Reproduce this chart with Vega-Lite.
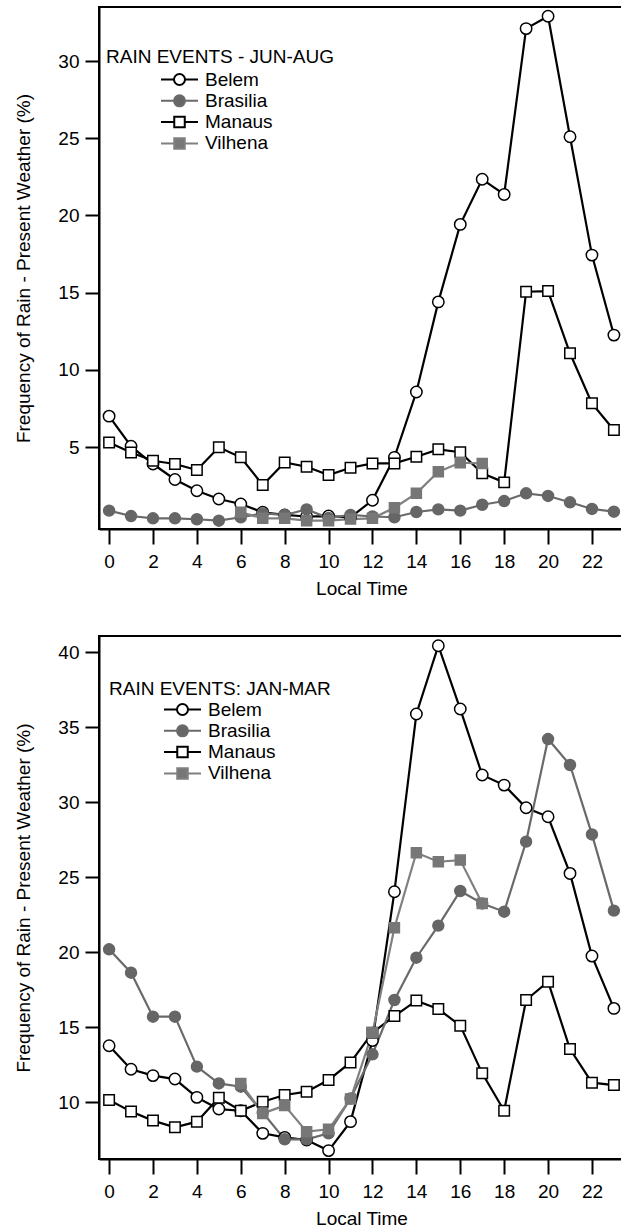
{
  "$schema": "https://vega.github.io/schema/vega-lite/v6.json",
  "padding": {"left": 13, "top": 6, "right": 0, "bottom": 0},
  "background": "white",
  "spacing": 107,
  "bounds": "flush",
  "config": {
    "font": "Liberation Sans",
    "view": {"stroke": "black", "strokeWidth": 2},
    "axis": {"grid": false, "domainColor": "black", "domainWidth": 2, "tickColor": "black", "tickWidth": 2, "labelColor": "black", "labelFontSize": 19, "titleFontSize": 19, "titleFontWeight": "normal", "titleColor": "black"},
    "axisX": {"tickSize": 15, "labelPadding": 8, "titlePadding": 8},
    "axisY": {"tickSize": 14, "labelPadding": 6, "titlePadding": 24},
    "legend": {"orient": "none", "titleFontSize": 19, "titleFontWeight": "normal", "titleColor": "black", "titleLimit": 600, "labelFontSize": 19, "labelColor": "black", "symbolSize": 100, "symbolStrokeWidth": 2, "padding": 0, "titlePadding": 4, "rowPadding": 1.3, "symbolOffset": 64, "labelOffset": 16}
  },
  "datasets": {
    "jja": [
      {"station":"Belem","hour":0,"freq":7.0},{"station":"Belem","hour":1,"freq":5.05},{"station":"Belem","hour":2,"freq":3.9},{"station":"Belem","hour":3,"freq":2.9},{"station":"Belem","hour":4,"freq":2.17},{"station":"Belem","hour":5,"freq":1.63},{"station":"Belem","hour":6,"freq":1.31},{"station":"Belem","hour":7,"freq":0.77},{"station":"Belem","hour":8,"freq":0.6},{"station":"Belem","hour":9,"freq":0.5},{"station":"Belem","hour":10,"freq":0.53},{"station":"Belem","hour":11,"freq":0.45},{"station":"Belem","hour":12,"freq":1.55},{"station":"Belem","hour":13,"freq":4.33},{"station":"Belem","hour":14,"freq":8.56},{"station":"Belem","hour":15,"freq":14.4},{"station":"Belem","hour":16,"freq":19.42},{"station":"Belem","hour":17,"freq":22.34},{"station":"Belem","hour":18,"freq":21.36},{"station":"Belem","hour":19,"freq":32.1},{"station":"Belem","hour":20,"freq":32.9},{"station":"Belem","hour":21,"freq":25.1},{"station":"Belem","hour":22,"freq":17.43},{"station":"Belem","hour":23,"freq":12.25},
      {"station":"Manaus","hour":0,"freq":5.3},{"station":"Manaus","hour":1,"freq":4.65},{"station":"Manaus","hour":2,"freq":4.11},{"station":"Manaus","hour":3,"freq":3.9},{"station":"Manaus","hour":4,"freq":3.51},{"station":"Manaus","hour":5,"freq":4.98},{"station":"Manaus","hour":6,"freq":4.33},{"station":"Manaus","hour":7,"freq":2.54},{"station":"Manaus","hour":8,"freq":4.0},{"station":"Manaus","hour":9,"freq":3.72},{"station":"Manaus","hour":10,"freq":3.19},{"station":"Manaus","hour":11,"freq":3.66},{"station":"Manaus","hour":12,"freq":3.94},{"station":"Manaus","hour":13,"freq":3.94},{"station":"Manaus","hour":14,"freq":4.37},{"station":"Manaus","hour":15,"freq":4.85},{"station":"Manaus","hour":16,"freq":4.66},{"station":"Manaus","hour":17,"freq":3.3},{"station":"Manaus","hour":18,"freq":2.71},{"station":"Manaus","hour":19,"freq":15.06},{"station":"Manaus","hour":20,"freq":15.1},{"station":"Manaus","hour":21,"freq":11.07},{"station":"Manaus","hour":22,"freq":7.83},{"station":"Manaus","hour":23,"freq":6.1},
      {"station":"Brasilia","hour":0,"freq":0.88},{"station":"Brasilia","hour":1,"freq":0.53},{"station":"Brasilia","hour":2,"freq":0.38},{"station":"Brasilia","hour":3,"freq":0.38},{"station":"Brasilia","hour":4,"freq":0.32},{"station":"Brasilia","hour":5,"freq":0.23},{"station":"Brasilia","hour":6,"freq":0.45},{"station":"Brasilia","hour":7,"freq":0.7},{"station":"Brasilia","hour":8,"freq":0.6},{"station":"Brasilia","hour":9,"freq":0.96},{"station":"Brasilia","hour":10,"freq":0.4},{"station":"Brasilia","hour":11,"freq":0.6},{"station":"Brasilia","hour":12,"freq":0.5},{"station":"Brasilia","hour":13,"freq":0.45},{"station":"Brasilia","hour":14,"freq":0.79},{"station":"Brasilia","hour":15,"freq":0.96},{"station":"Brasilia","hour":16,"freq":0.88},{"station":"Brasilia","hour":17,"freq":1.26},{"station":"Brasilia","hour":18,"freq":1.5},{"station":"Brasilia","hour":19,"freq":2.0},{"station":"Brasilia","hour":20,"freq":1.83},{"station":"Brasilia","hour":21,"freq":1.42},{"station":"Brasilia","hour":22,"freq":0.99},{"station":"Brasilia","hour":23,"freq":0.81},
      {"station":"Vilhena","hour":6,"freq":0.77},{"station":"Vilhena","hour":7,"freq":0.38},{"station":"Vilhena","hour":8,"freq":0.38},{"station":"Vilhena","hour":9,"freq":0.23},{"station":"Vilhena","hour":10,"freq":0.23},{"station":"Vilhena","hour":11,"freq":0.33},{"station":"Vilhena","hour":12,"freq":0.38},{"station":"Vilhena","hour":13,"freq":1.07},{"station":"Vilhena","hour":14,"freq":2.0},{"station":"Vilhena","hour":15,"freq":3.4},{"station":"Vilhena","hour":16,"freq":3.98},{"station":"Vilhena","hour":17,"freq":3.94}
    ],
    "jfm": [
      {"station":"Belem","hour":0,"freq":13.75},{"station":"Belem","hour":1,"freq":12.18},{"station":"Belem","hour":2,"freq":11.76},{"station":"Belem","hour":3,"freq":11.53},{"station":"Belem","hour":4,"freq":10.31},{"station":"Belem","hour":5,"freq":9.53},{"station":"Belem","hour":6,"freq":9.42},{"station":"Belem","hour":7,"freq":7.91},{"station":"Belem","hour":8,"freq":7.64},{"station":"Belem","hour":9,"freq":7.47},{"station":"Belem","hour":10,"freq":6.76},{"station":"Belem","hour":11,"freq":8.69},{"station":"Belem","hour":12,"freq":14.1},{"station":"Belem","hour":13,"freq":24.02},{"station":"Belem","hour":14,"freq":35.87},{"station":"Belem","hour":15,"freq":40.42},{"station":"Belem","hour":16,"freq":36.2},{"station":"Belem","hour":17,"freq":31.8},{"station":"Belem","hour":18,"freq":31.13},{"station":"Belem","hour":19,"freq":29.62},{"station":"Belem","hour":20,"freq":29.02},{"station":"Belem","hour":21,"freq":25.24},{"station":"Belem","hour":22,"freq":19.73},{"station":"Belem","hour":23,"freq":16.24},
      {"station":"Manaus","hour":0,"freq":10.13},{"station":"Manaus","hour":1,"freq":9.36},{"station":"Manaus","hour":2,"freq":8.76},{"station":"Manaus","hour":3,"freq":8.31},{"station":"Manaus","hour":4,"freq":8.69},{"station":"Manaus","hour":5,"freq":10.29},{"station":"Manaus","hour":6,"freq":9.42},{"station":"Manaus","hour":7,"freq":10.02},{"station":"Manaus","hour":8,"freq":10.47},{"station":"Manaus","hour":9,"freq":10.69},{"station":"Manaus","hour":10,"freq":11.47},{"station":"Manaus","hour":11,"freq":12.64},{"station":"Manaus","hour":12,"freq":14.62},{"station":"Manaus","hour":13,"freq":15.73},{"station":"Manaus","hour":14,"freq":16.76},{"station":"Manaus","hour":15,"freq":16.2},{"station":"Manaus","hour":16,"freq":15.09},{"station":"Manaus","hour":17,"freq":11.91},{"station":"Manaus","hour":18,"freq":9.42},{"station":"Manaus","hour":19,"freq":16.8},{"station":"Manaus","hour":20,"freq":18.02},{"station":"Manaus","hour":21,"freq":13.53},{"station":"Manaus","hour":22,"freq":11.29},{"station":"Manaus","hour":23,"freq":11.13},
      {"station":"Brasilia","hour":0,"freq":20.18},{"station":"Brasilia","hour":1,"freq":18.62},{"station":"Brasilia","hour":2,"freq":15.69},{"station":"Brasilia","hour":3,"freq":15.69},{"station":"Brasilia","hour":4,"freq":12.36},{"station":"Brasilia","hour":5,"freq":11.24},{"station":"Brasilia","hour":6,"freq":11.02},{"station":"Brasilia","hour":7,"freq":9.3},{"station":"Brasilia","hour":8,"freq":7.51},{"station":"Brasilia","hour":9,"freq":7.51},{"station":"Brasilia","hour":10,"freq":7.91},{"station":"Brasilia","hour":11,"freq":10.24},{"station":"Brasilia","hour":12,"freq":13.18},{"station":"Brasilia","hour":13,"freq":16.8},{"station":"Brasilia","hour":14,"freq":19.62},{"station":"Brasilia","hour":15,"freq":21.76},{"station":"Brasilia","hour":16,"freq":24.07},{"station":"Brasilia","hour":17,"freq":23.24},{"station":"Brasilia","hour":18,"freq":22.69},{"station":"Brasilia","hour":19,"freq":27.36},{"station":"Brasilia","hour":20,"freq":34.2},{"station":"Brasilia","hour":21,"freq":32.47},{"station":"Brasilia","hour":22,"freq":27.84},{"station":"Brasilia","hour":23,"freq":22.76},
      {"station":"Vilhena","hour":6,"freq":11.24},{"station":"Vilhena","hour":7,"freq":9.24},{"station":"Vilhena","hour":8,"freq":9.76},{"station":"Vilhena","hour":9,"freq":8.02},{"station":"Vilhena","hour":10,"freq":8.18},{"station":"Vilhena","hour":11,"freq":10.2},{"station":"Vilhena","hour":12,"freq":14.62},{"station":"Vilhena","hour":13,"freq":21.62},{"station":"Vilhena","hour":14,"freq":26.62},{"station":"Vilhena","hour":15,"freq":26.02},{"station":"Vilhena","hour":16,"freq":26.13},{"station":"Vilhena","hour":17,"freq":23.24}
    ]
  },
  "vconcat": [
    {
      "width": 525, "height": 522,
      "data": {"name": "jja"},
      "resolve": {"scale": {"shape": "independent", "fill": "independent", "stroke": "independent"}},
      "layer": [
        {
          "mark": {"type": "line", "strokeWidth": 2.2},
          "encoding": {
            "x": {"field": "hour", "type": "quantitative", "scale": {"domain": [-0.46, 23.46], "nice": false, "zero": false}, "axis": {"values": [0,2,4,6,8,10,12,14,16,18,20,22], "title": "Local Time"}},
            "y": {"field": "freq", "type": "quantitative", "scale": {"domain": [-0.31, 33.5], "nice": false, "zero": false}, "axis": {"values": [5,10,15,20,25,30], "title": "Frequency of Rain - Present Weather (%)"}},
            "stroke": {"field": "station", "type": "nominal", "scale": {"domain": ["Belem","Brasilia","Manaus","Vilhena"], "range": ["#000000","#6a6a6a","#000000","#808080"]}, "legend": null}
          }
        },
        {
          "mark": {"type": "point", "filled": true, "opacity": 1, "strokeWidth": 1.5},
          "encoding": {
            "x": {"field": "hour", "type": "quantitative"},
            "y": {"field": "freq", "type": "quantitative"},
            "shape": {"field": "station", "type": "nominal", "scale": {"domain": ["Belem","Brasilia","Manaus","Vilhena"], "range": ["circle","circle","square","square"]}, "legend": null},
            "fill": {"field": "station", "type": "nominal", "scale": {"domain": ["Belem","Brasilia","Manaus","Vilhena"], "range": ["#ffffff","#666666","#ffffff","#777777"]}, "legend": null},
            "stroke": {"field": "station", "type": "nominal", "scale": {"domain": ["Belem","Brasilia","Manaus","Vilhena"], "range": ["#000000","#666666","#000000","#777777"]}, "legend": null},
            "size": {"field": "station", "type": "ordinal", "scale": {"domain": ["Belem","Brasilia","Manaus","Vilhena"], "range": [130,100,115,115]}, "legend": null}
          }
        },
        {
          "transform": [{"filter": "false"}],
          "mark": {"type": "point", "filled": true, "opacity": 1},
          "encoding": {
            "shape": {"field": "station", "type": "nominal", "scale": {"domain": ["Belem","Brasilia","Manaus","Vilhena"], "range": ["M-3.7,0H-1.1M1.1,0H3.7M1.1,0A1.1,1.1,0,1,1,-1.1,0A1.1,1.1,0,1,1,1.1,0Z","M-3.7,0H-1.1M1.1,0H3.7M1.1,0A1.1,1.1,0,1,1,-1.1,0A1.1,1.1,0,1,1,1.1,0Z","M-3.7,0H-1.05M1.05,0H3.7M-1.05,-1.05H1.05V1.05H-1.05Z","M-3.7,0H-1.05M1.05,0H3.7M-1.05,-1.05H1.05V1.05H-1.05Z"]}, "legend": {"title": "RAIN EVENTS - JUN-AUG", "legendX": 7, "legendY": 41, "titlePadding": 3}},
            "fill": {"field": "station", "type": "nominal", "scale": {"domain": ["Belem","Brasilia","Manaus","Vilhena"], "range": ["#ffffff","#666666","#ffffff","#777777"]}, "legend": {"title": "RAIN EVENTS - JUN-AUG", "legendX": 7, "legendY": 41, "titlePadding": 3}},
            "stroke": {"field": "station", "type": "nominal", "scale": {"domain": ["Belem","Brasilia","Manaus","Vilhena"], "range": ["#000000","#6a6a6a","#000000","#808080"]}, "legend": {"title": "RAIN EVENTS - JUN-AUG", "legendX": 7, "legendY": 41, "titlePadding": 3}}
          }
        }
      ]
    },
    {
      "width": 525, "height": 523,
      "data": {"name": "jfm"},
      "resolve": {"scale": {"shape": "independent", "fill": "independent", "stroke": "independent"}},
      "layer": [
        {
          "mark": {"type": "line", "strokeWidth": 2.2},
          "encoding": {
            "x": {"field": "hour", "type": "quantitative", "scale": {"domain": [-0.46, 23.46], "nice": false, "zero": false}, "axis": {"values": [0,2,4,6,8,10,12,14,16,18,20,22], "title": "Local Time"}},
            "y": {"field": "freq", "type": "quantitative", "scale": {"domain": [6.2, 41.07], "nice": false, "zero": false}, "axis": {"values": [10,15,20,25,30,35,40], "title": "Frequency of Rain - Present Weather (%)"}},
            "stroke": {"field": "station", "type": "nominal", "scale": {"domain": ["Belem","Brasilia","Manaus","Vilhena"], "range": ["#000000","#6a6a6a","#000000","#808080"]}, "legend": null}
          }
        },
        {
          "mark": {"type": "point", "filled": true, "opacity": 1, "strokeWidth": 1.5},
          "encoding": {
            "x": {"field": "hour", "type": "quantitative"},
            "y": {"field": "freq", "type": "quantitative"},
            "shape": {"field": "station", "type": "nominal", "scale": {"domain": ["Belem","Brasilia","Manaus","Vilhena"], "range": ["circle","circle","square","square"]}, "legend": null},
            "fill": {"field": "station", "type": "nominal", "scale": {"domain": ["Belem","Brasilia","Manaus","Vilhena"], "range": ["#ffffff","#666666","#ffffff","#777777"]}, "legend": null},
            "stroke": {"field": "station", "type": "nominal", "scale": {"domain": ["Belem","Brasilia","Manaus","Vilhena"], "range": ["#000000","#666666","#000000","#777777"]}, "legend": null},
            "size": {"field": "station", "type": "ordinal", "scale": {"domain": ["Belem","Brasilia","Manaus","Vilhena"], "range": [130,100,115,115]}, "legend": null}
          }
        },
        {
          "transform": [{"filter": "false"}],
          "mark": {"type": "point", "filled": true, "opacity": 1},
          "encoding": {
            "shape": {"field": "station", "type": "nominal", "scale": {"domain": ["Belem","Brasilia","Manaus","Vilhena"], "range": ["M-3.7,0H-1.1M1.1,0H3.7M1.1,0A1.1,1.1,0,1,1,-1.1,0A1.1,1.1,0,1,1,1.1,0Z","M-3.7,0H-1.1M1.1,0H3.7M1.1,0A1.1,1.1,0,1,1,-1.1,0A1.1,1.1,0,1,1,1.1,0Z","M-3.7,0H-1.05M1.05,0H3.7M-1.05,-1.05H1.05V1.05H-1.05Z","M-3.7,0H-1.05M1.05,0H3.7M-1.05,-1.05H1.05V1.05H-1.05Z"]}, "legend": {"title": "RAIN EVENTS: JAN-MAR", "legendX": 10, "legendY": 44, "titlePadding": 1}},
            "fill": {"field": "station", "type": "nominal", "scale": {"domain": ["Belem","Brasilia","Manaus","Vilhena"], "range": ["#ffffff","#666666","#ffffff","#777777"]}, "legend": {"title": "RAIN EVENTS: JAN-MAR", "legendX": 10, "legendY": 44, "titlePadding": 1}},
            "stroke": {"field": "station", "type": "nominal", "scale": {"domain": ["Belem","Brasilia","Manaus","Vilhena"], "range": ["#000000","#6a6a6a","#000000","#808080"]}, "legend": {"title": "RAIN EVENTS: JAN-MAR", "legendX": 10, "legendY": 44, "titlePadding": 1}}
          }
        }
      ]
    }
  ]
}
